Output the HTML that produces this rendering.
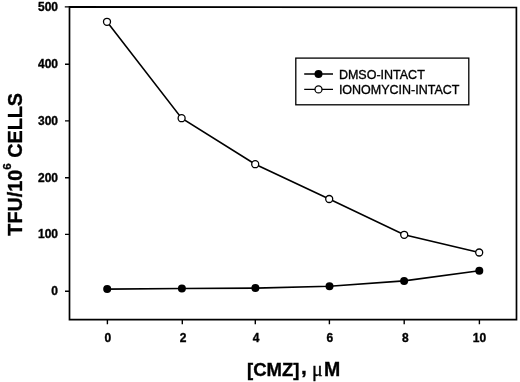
<!DOCTYPE html>
<html><head><meta charset="utf-8"><style>
html,body{margin:0;padding:0;background:#fff;}
svg{display:block;will-change:transform;}
text{font-family:"Liberation Sans",sans-serif;fill:#000;stroke:#000;stroke-width:0.35px;}
</style></head><body>
<svg width="520" height="382" viewBox="0 0 520 382" xmlns="http://www.w3.org/2000/svg">
<g fill="none" stroke="#000" stroke-width="1.7">
<path d="M69.5 6.9 L516.4 7.5 L516.5 319.6 L69.5 319.6 Z"/>
</g>
<g stroke="#000" stroke-width="1.4">
<path d="M64.8 6.9H69.5M65 64.2H69.5M65 120.9H69.5M65 177.7H69.5M65 234.4H69.5M65 291.2H69.5"/>
<path d="M107.4 319.6V324.3M182.3 319.6V324.3M255.3 319.6V324.3M329.4 319.6V324.3M404.2 319.6V324.3M479.4 319.6V324.3"/>
</g>
<g font-size="12" font-weight="bold" text-anchor="end">
<text x="58" y="10.8">500</text>
<text x="58" y="68.1">400</text>
<text x="58" y="124.8">300</text>
<text x="58" y="181.6">200</text>
<text x="58" y="238.3">100</text>
<text x="58" y="295.2">0</text>
</g>
<g font-size="12" font-weight="bold" text-anchor="middle">
<text x="107.9" y="342">0</text>
<text x="183.1" y="342">2</text>
<text x="256.1" y="342">4</text>
<text x="329.9" y="342">6</text>
<text x="405.4" y="342">8</text>
<text x="479.4" y="342">10</text>
</g>
<g fill="none" stroke="#000" stroke-width="1.6">
<polyline points="107,21.8 181.6,118.2 255.2,164.2 329.2,199 404.2,234.8 479.2,252.5"/>
<polyline points="107.2,289.1 181.9,288.5 255.4,288.1 329.5,286.2 404.1,280.9 479.3,270.8"/>
</g>
<g fill="#fff" stroke="#000" stroke-width="1.3">
<circle cx="107" cy="21.8" r="3.5"/>
<circle cx="181.6" cy="118.2" r="3.5"/>
<circle cx="255.2" cy="164.2" r="3.5"/>
<circle cx="329.2" cy="199" r="3.5"/>
<circle cx="404.2" cy="234.8" r="3.5"/>
<circle cx="479.2" cy="252.5" r="3.5"/>
</g>
<g fill="#000">
<circle cx="107.2" cy="289.1" r="4"/>
<circle cx="181.9" cy="288.5" r="4"/>
<circle cx="255.4" cy="288.1" r="4"/>
<circle cx="329.5" cy="286.2" r="4"/>
<circle cx="404.1" cy="280.9" r="4"/>
<circle cx="479.3" cy="270.8" r="4"/>
</g>
<rect x="295.8" y="58.1" width="173" height="46.7" fill="none" stroke="#000" stroke-width="1.3"/>
<g stroke="#000" stroke-width="1.3">
<path d="M304.2 74H333M304.2 89.4H333"/>
</g>
<circle cx="318.5" cy="74" r="4" fill="#000"/>
<circle cx="318.5" cy="89.4" r="3.5" fill="#fff" stroke="#000" stroke-width="1.3"/>
<g font-size="12.5">
<text x="338.9" y="78.8">DMSO-INTACT</text>
<text x="338.9" y="93.8">IONOMYCIN-INTACT</text>
</g>
<text transform="translate(22,164.3) rotate(-90)" font-size="19.8" font-weight="bold" text-anchor="middle">TFU/10<tspan font-size="11.5" dy="-11">6</tspan><tspan dy="11"> CELLS</tspan></text>
<text x="247" y="375.5" font-size="18.5" font-weight="bold">[CMZ]</text>
<text x="301" y="374" font-size="21" font-weight="bold">,</text>
<text x="312" y="375.5" font-size="20" style="font-family:'Liberation Serif',serif">μ</text>
<text x="324" y="375.5" font-size="19.5" font-weight="bold">M</text>
</svg>
</body></html>
